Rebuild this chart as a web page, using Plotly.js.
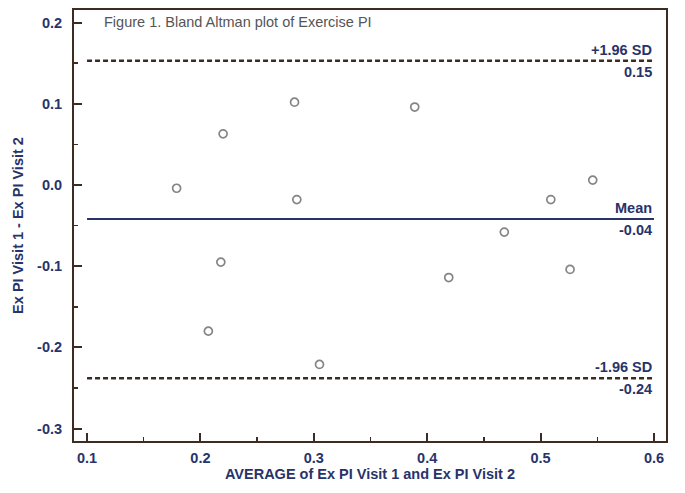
<!DOCTYPE html>
<html>
<head>
<meta charset="utf-8">
<script src="https://cdn.plot.ly/plotly-3.0.1.min.js"></script>
<style>html,body{margin:0;padding:0;background:#fff;}#chart{width:685px;height:493px;}</style>
</head>
<body>
<div id="chart"></div>
<script>
// Data
const avgValues  = [0.179, 0.220, 0.218, 0.207, 0.283, 0.285, 0.305, 0.389, 0.419, 0.468, 0.509, 0.526, 0.546];
const diffValues = [-0.004, 0.063, -0.095, -0.180, 0.102, -0.018, -0.221, 0.096, -0.114, -0.058, -0.018, -0.104, 0.006];
const lineX      = [0.1, 0.6];
const meanDiff   = -0.042;
const upperLoA   = 0.153;
const lowerLoA   = -0.238;
const lineLabels = ["+1.96 SD", "0.15", "Mean", "-0.04", "-1.96 SD", "-0.24"];
const yTickVals  = [0.2, 0.1, 0.0, -0.1, -0.2, -0.3];
const yTickText  = ["0.2", "0.1", "0.0", "-0.1", "-0.2", "-0.3"];
const titleText  = "Figure 1. Bland Altman plot of Exercise PI";
const xTitle     = "AVERAGE of Ex PI Visit 1 and Ex PI Visit 2";
const yTitle     = "Ex PI Visit 1 - Ex PI Visit 2";

const navy = "#28336a";
const brown = "#3e2b22";
const fontFam = "Liberation Sans, Arial, sans-serif";
const fs = 14.5;

const traces = [
  {x: lineX, y: [upperLoA, upperLoA], mode: "lines", line: {color: brown, width: 2.5, dash: "5px,3px"}, hoverinfo: "skip"},
  {x: lineX, y: [lowerLoA, lowerLoA], mode: "lines", line: {color: brown, width: 2.5, dash: "5px,3px"}, hoverinfo: "skip"},
  {x: lineX, y: [meanDiff, meanDiff], mode: "lines", line: {color: navy, width: 2}, hoverinfo: "skip"},
  {x: avgValues, y: diffValues, mode: "markers",
   marker: {symbol: "circle-open", size: 8, color: "#858585", line: {width: 1.7, color: "#858585"}}}
];

const labFont = {family: fontFam, size: fs, color: navy};
function lab(text, y, yanchor) {
  return {x: 0.6, y: y, xref: "x", yref: "y", text: "<b>" + text + "</b>", showarrow: false,
          xanchor: "right", yanchor: yanchor, yshift: yanchor === "bottom" ? 1 : -1, font: labFont};
}

const layout = {
  width: 685, height: 493,
  margin: {l: 74, r: 19, t: 10, b: 52},
  paper_bgcolor: "#fff", plot_bgcolor: "#fff",
  showlegend: false,
  xaxis: {
    range: [0.0885, 0.6106], dtick: 0.1, tick0: 0.1, tickformat: ".1f",
    showgrid: false, zeroline: false,
    showline: true, linecolor: brown, linewidth: 2, mirror: true,
    ticks: "inside", ticklen: 8, tickwidth: 2, tickcolor: brown,
    minor: {ticks: "inside", ticklen: 4, tickwidth: 1.5, tickcolor: brown, dtick: 0.05, showgrid: false},
    tickfont: {family: fontFam, size: fs, color: navy, weight: "bold"},
    ticklabelstandoff: 3,
    title: {text: "<b>" + xTitle + "</b>", font: {family: fontFam, size: fs, color: navy}, standoff: 2}
  },
  yaxis: {
    range: [-0.3153, 0.2155], tickmode: "array", tickvals: yTickVals, ticktext: yTickText,
    showgrid: false, zeroline: false,
    showline: true, linecolor: brown, linewidth: 2, mirror: true,
    ticks: "inside", ticklen: 8, tickwidth: 2, tickcolor: brown,
    minor: {ticks: "inside", ticklen: 4, tickwidth: 1.5, tickcolor: brown, tick0: 0, dtick: 0.05, showgrid: false},
    tickfont: {family: fontFam, size: fs, color: navy, weight: "bold"},
    ticklabelstandoff: 7,
    title: {text: "<b>" + yTitle + "</b>", font: {family: fontFam, size: fs, color: navy}, standoff: 10}
  },
  annotations: [
    {x: 0.0885, y: 0.2155, xref: "x", yref: "y", xanchor: "left", yanchor: "top", xshift: 28, yshift: -2,
     text: titleText, showarrow: false, font: {family: fontFam, size: fs, color: "#555"}},
    lab(lineLabels[0], upperLoA, "bottom"),
    lab(lineLabels[1], upperLoA, "top"),
    lab(lineLabels[2], meanDiff, "bottom"),
    lab(lineLabels[3], meanDiff, "top"),
    lab(lineLabels[4], lowerLoA, "bottom"),
    lab(lineLabels[5], lowerLoA, "top")
  ]
};

Plotly.newPlot("chart", traces, layout, {displayModeBar: false, staticPlot: true});
</script>
</body>
</html>
